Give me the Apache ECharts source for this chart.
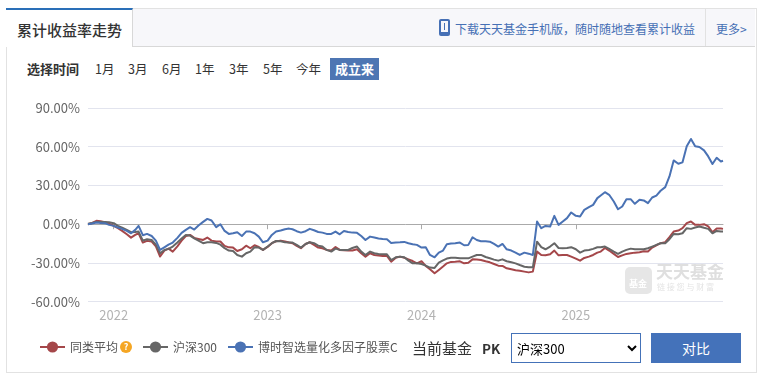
<!DOCTYPE html>
<html><head><meta charset="utf-8">
<script src="https://cdn.jsdelivr.net/npm/echarts@6/dist/echarts.min.js"></script>
<style>
html,body{margin:0;padding:0;background:#fff;width:761px;height:377px;overflow:hidden;font-family:"Noto Sans CJK SC","Noto Sans",sans-serif;color:#333}
.a{position:absolute;white-space:nowrap}
#chart{position:absolute;left:0;top:0;width:761px;height:377px}
</style></head><body>
<div class="a" style="left:6px;top:8px;width:749px;height:363px;border:1px solid #e2e2e2"></div>
<div class="a" style="left:7px;top:9px;width:748px;height:37px;background:#f7f7fa;border-bottom:1px solid #d8d8d8"></div>
<div class="a" style="left:6px;top:8px;width:127px;height:39px;background:#fff;border-top:2px solid #2a6fb8;border-right:1px solid #d8d8d8;box-sizing:border-box"></div>
<div class="a" style="left:705px;top:9px;width:1px;height:37px;background:#e2e2e2"></div>
<div class="a" style="left:17px;top:19px;font-size:15px;font-weight:500;line-height:22px">累计收益率走势</div>
<div class="a" style="left:439px;top:19px;width:11px;height:17px;background:#4670b5;border-radius:2px"><div style="position:absolute;left:2px;top:2px;width:7px;height:11px;background:#f7f7fa"></div><div style="position:absolute;left:5px;top:4px;width:1px;height:7px;background:#4670b5"></div></div>
<div class="a" style="left:455px;top:19px;font-size:12px;line-height:20px;color:#4670b5">下载天天基金手机版，随时随地查看累计收益</div>
<div class="a" style="left:716px;top:19px;font-size:12px;line-height:20px;color:#4670b5">更多&gt;</div>
<div class="a" style="left:27px;top:59px;font-size:13px;font-weight:700;line-height:20px">选择时间</div>
<div class="a" style="left:95px;top:59px;font-size:12.5px;line-height:20px">1月</div>
<div class="a" style="left:128px;top:59px;font-size:12.5px;line-height:20px">3月</div>
<div class="a" style="left:162px;top:59px;font-size:12.5px;line-height:20px">6月</div>
<div class="a" style="left:195px;top:59px;font-size:12.5px;line-height:20px">1年</div>
<div class="a" style="left:229px;top:59px;font-size:12.5px;line-height:20px">3年</div>
<div class="a" style="left:263px;top:59px;font-size:12.5px;line-height:20px">5年</div>
<div class="a" style="left:296px;top:59px;font-size:12.5px;line-height:20px">今年</div>
<div class="a" style="left:330px;top:58px;width:49px;height:22px;background:#4e76b3;color:#fff;font-size:13px;font-weight:700;line-height:22px;text-align:center">成立来</div>
<div id="chart"></div>
<div class="a" style="left:412px;top:338px;font-size:15px;line-height:20px">当前基金</div>
<div class="a" style="left:482px;top:338px;font-size:13.5px;font-weight:700;line-height:20px">PK</div>
<select class="a" style="left:511px;top:333px;width:130px;height:30px;border:1px solid #4472b8;background:#fff;font-size:13px;color:#000;font-family:inherit;padding:0 0 0 1px;border-radius:0;outline:none"><option>沪深300</option></select>
<div class="a" style="left:651px;top:333px;width:90px;height:30px;background:#4472ba;color:#fff;font-size:14px;line-height:30px;text-align:center">对比</div>
<script>
const dates = [
'2021-11-01','2021-11-11','2021-11-21','2021-12-01','2021-12-11','2021-12-21',
'2022-01-01','2022-01-11','2022-01-21','2022-02-01','2022-02-11','2022-02-21','2022-03-01','2022-03-11','2022-03-21','2022-04-01','2022-04-11','2022-04-21',
'2022-05-01','2022-05-11','2022-05-21','2022-06-01','2022-06-11','2022-06-21','2022-07-01','2022-07-11','2022-07-21','2022-08-01','2022-08-11','2022-08-21',
'2022-09-01','2022-09-11','2022-09-21','2022-10-01','2022-10-11','2022-10-21','2022-11-01','2022-11-11','2022-11-21','2022-12-01','2022-12-11','2022-12-21',
'2023-01-01','2023-01-11','2023-01-21','2023-02-01','2023-02-11','2023-02-21','2023-03-01','2023-03-11','2023-03-21','2023-04-01','2023-04-11','2023-04-21',
'2023-05-01','2023-05-11','2023-05-21','2023-06-01','2023-06-11','2023-06-21','2023-07-01','2023-07-11','2023-07-21','2023-08-01','2023-08-11','2023-08-21',
'2023-09-01','2023-09-11','2023-09-21','2023-10-01','2023-10-11','2023-10-21','2023-11-01','2023-11-11','2023-11-21','2023-12-01','2023-12-11','2023-12-21',
'2024-01-01','2024-01-11','2024-01-21','2024-02-01','2024-02-11','2024-02-21','2024-03-01','2024-03-11','2024-03-21','2024-04-01','2024-04-11','2024-04-21',
'2024-05-01','2024-05-11','2024-05-21','2024-06-01','2024-06-11','2024-06-21','2024-07-01','2024-07-11','2024-07-21','2024-08-01','2024-08-11','2024-08-21',
'2024-09-01','2024-09-11','2024-09-21','2024-10-01','2024-10-11','2024-10-21','2024-11-01','2024-11-11','2024-11-21','2024-12-01','2024-12-11','2024-12-21',
'2025-01-01','2025-01-11','2025-01-21','2025-02-01','2025-02-11','2025-02-21','2025-03-01','2025-03-11','2025-03-21','2025-04-01','2025-04-11','2025-04-21',
'2025-05-01','2025-05-11','2025-05-21','2025-06-01','2025-06-11','2025-06-21','2025-07-01','2025-07-11','2025-07-21','2025-08-01','2025-08-11','2025-08-21',
'2025-09-01','2025-09-11','2025-09-21','2025-10-01','2025-10-11','2025-10-21','2025-11-01','2025-11-11','2025-11-21','2025-12-01','2025-12-11','2025-12-16'];
const peerAvg = [
0,1.0,2.6,2.3,1.6,.5,-1.3,-3.1,-5.2,-7.8,-10.4,-8.3,-7,-14.2,-12.9,-13.4,-17.1,-25,-20.4,-18.9,-21.2,-17.1,-12.7,-9.1,-8.3,-10.6,-11.4,-12.2,-10.3,-12.7,-13.4,-13.4,-16.8,-17.9,-18.1,-20.7,-19.4,-16.6,-18.6,-16.3,-17.6,-19.9,-17.6,-14.7,-13.2,-12.7,-13.4,-14.2,-14.7,-16.8,-18.6,
-15.3,-14,-16,-18.1,-18.6,-19.9,-20.4,-17.6,-19.9,-20.2,-20.4,-20.4,-19.4,-22.5,-25.1,-22.5,-23.8,-24.3,-24.6,-24.6,-29,-25.9,-25.1,-25.9,-27.2,-28.5,-30.3,-28.7,-32.3,-34.9,-38,-35.4,-32.8,-30.3,-29.2,-29,-28.7,-30.3,-29.8,-27.2,-27.4,-27.7,-28.7,-29.5,-30.8,-32.1,-32.3,-34.1,
-34.9,-35.7,-36,-36.7,-37.3,-36.7,-21.2,-23.8,-24.1,-23.3,-20.4,-24.1,-23.8,-23.8,-25.1,-26.6,-28.2,-26.1,-25.1,-23.8,-22,-21.2,-18.4,-20.4,-23,-25.4,-24.1,-23,-22.5,-22,-21.7,-21,-21.2,-18.1,-16.3,-14.7,-13.9,-10,-5.7,-4.9,-3.1,.8,2.1,-.5,-.5,0,-1.6,-6.2,-3.4,-3.4,-3.6];
const csi300 = [
.3,1.0,1.8,1.8,1.8,1.6,.8,-1.3,-2.6,-4.4,-6.2,-6,-5.7,-12.7,-11.6,-12.2,-15.8,-22.5,-20,-19.1,-17.3,-14.2,-11.1,-8.3,-8.8,-10.9,-12.7,-14.7,-14,-14,-14.5,-15.8,-18.6,-20.4,-20.7,-23.8,-25.1,-22.5,-21.2,-17.8,-18.1,-19.9,-17.3,-14.7,-13,-13.2,-14,-14.2,-14.2,-16,-18.1,
-15.3,-14,-14.7,-16.6,-17.3,-19.9,-21.2,-18.9,-19.9,-19.9,-19.9,-18.4,-17.3,-21.2,-23.8,-21.2,-22.5,-23,-23.3,-23.3,-27.7,-25.6,-25.1,-25.6,-28.2,-30.3,-30.3,-30.8,-32.1,-33.6,-33.9,-29.8,-28,-26.6,-25.9,-25.9,-26.4,-26.4,-26.4,-25.1,-23.8,-23.8,-25.4,-26.4,-27.4,-28.2,-27.2,-28.7,
-29.5,-30.3,-31.6,-32.9,-33.4,-33.4,-13.5,-17.8,-19.4,-17.3,-14.7,-18.4,-18.6,-18.4,-17.8,-19.4,-22,-20.4,-19.9,-19.1,-17.8,-17.8,-17.3,-19.1,-21.2,-23,-21.2,-19.9,-18.9,-19.4,-19.4,-19.4,-18.6,-17.3,-16,-14.7,-14.7,-11.6,-7.5,-7.8,-7,-3.1,-3.6,-2.6,-1.8,-2.8,-3.6,-7,-5.2,-5.7,-5.7];
const fund = [
0,.5,1.3,1.0,.8,-.5,-1.3,-2.6,-3.6,-5.2,-7,-4.4,-1.3,-8.5,-7.5,-9.1,-12.7,-19.9,-17.9,-15.8,-14.2,-10.6,-6.7,-4.4,-2.3,-4.1,-1,1.8,4.1,2.9,-2.3,0,-5.2,-7.5,-7,-6.2,-9.1,-5.7,-5.7,-7,-9.6,-14,-12.7,-8.3,-5.7,-4.9,-3.9,-3.4,-3.9,-5.4,-6.5,
-5.4,-3.6,-4.7,-6,-6.5,-7.5,-7.5,-5.7,-7.8,-5.2,-6,-6.5,-6.7,-9.1,-12.2,-9.6,-10.3,-11.1,-11.4,-11.6,-14.5,-14.2,-14,-13.7,-14.7,-15.5,-16,-18.1,-17.9,-23.8,-25.6,-22,-20.4,-15.5,-15,-14.7,-14.2,-16.3,-16,-10.1,-12.2,-13.2,-13.2,-13.5,-15.3,-17.3,-15.3,-19.4,
-20.4,-22,-23.8,-22,-22.8,-23.8,2.1,-3.1,-1.3,-1.8,6.5,-.5,2.1,4.7,9.1,6.5,6,11.1,13.2,15,20.2,22.2,24.8,22.8,17.6,11.6,13.7,19.4,19.4,15.8,18.9,18.4,16.3,20.7,22.2,25.9,28.7,37,49.4,46.8,47.9,60.3,66,60.3,59.8,57.2,52.5,46.6,51.5,48.6,49.2];
const yearTicks = ['2022-01-01','2023-01-01','2024-01-01','2025-01-01'];
const seriesNames = ['同类平均','沪深300','博时智选量化多因子股票C'];

const ts = d => Date.parse(d + 'T00:00:00Z');
const tickVals = yearTicks.map(ts);
const pair = arr => dates.map((d, i) => [ts(d), arr[i]]);
const xMin = ts(dates[0]), xMax = ts(dates[dates.length - 1]);
const font = '"Noto Sans CJK SC","Noto Sans",sans-serif';
const mk = (name, arr, color) => ({
  name, type: 'line', data: pair(arr), xAxisIndex: 0, yAxisIndex: 0, symbol: 'circle', symbolSize: 10,
  showSymbol: false, smooth: false, silent: true, animation: false,
  lineStyle: { color, width: 2, join: 'round' }, itemStyle: { color }
});
const chart = echarts.init(document.getElementById('chart'), null, { renderer: 'canvas' });
chart.setOption({
  animation: false,
  textStyle: { fontFamily: font },
  grid: { left: 88, right: 38, top: 108, bottom: 75.3 },
  legend: {
    left: 34, top: 336, itemWidth: 25, itemHeight: 14, itemGap: 10, selectedMode: false,
    data: seriesNames,
    textStyle: { fontSize: 12, color: '#555', fontFamily: font,
      rich: { n: { fontSize: 12, color: '#555', fontFamily: font }, q: { width: 12, height: 12, lineHeight: 12, borderRadius: 6, backgroundColor: '#f5a623', color: '#fff', fontSize: 9, fontWeight: 'bold', align: 'center' }, s: { width: 2 } } },
    formatter: n => n === seriesNames[0] ? '{n|' + n + '}{s|}{q|?}' : '{n|' + n + '}'
  },
  xAxis: [
    { type: 'value', min: xMin, max: xMax, axisLine: { onZero: true, lineStyle: { color: '#aaa', width: 1 } },
      axisTick: { show: true, inside: false, length: 5, lineStyle: { color: '#aaa' }, customValues: tickVals },
      axisLabel: { show: false }, splitLine: { show: false } },
    { type: 'value', position: 'bottom', min: xMin, max: xMax, axisLine: { show: false, onZero: false }, axisTick: { show: false },
      axisLabel: { show: true, customValues: tickVals, color: '#b3b3b3', fontSize: 13, margin: 7, showMinLabel: true, showMaxLabel: true, formatter: v => String(new Date(v).getUTCFullYear()) },
      splitLine: { show: false } }
  ],
  yAxis: { type: 'value', min: -60, max: 90, interval: 30, axisLine: { show: false }, axisTick: { show: false },
    axisLabel: { color: '#666', fontSize: 13, margin: 8, formatter: v => v.toFixed(2) + '%' },
    splitLine: { lineStyle: { color: '#e2e4ee', width: 1 } } },
  graphic: [
    { type: 'rect', z: 0, left: 625, top: 267, shape: { width: 27, height: 27, r: 5 }, style: { fill: '#e6e6e6' } },
    { type: 'text', z: 0, left: 629, top: 279, style: { text: '基金', fill: '#fff', font: '700 9px ' + font } },
    { type: 'text', z: 0, left: 656, top: 263, style: { text: '天天基金', fill: '#dfdfdf', font: '700 17px ' + font } },
    { type: 'text', z: 0, left: 657, top: 283, style: { text: '链 接 您 与 财 富', fill: '#e4e4e4', font: '8px ' + font } }
  ],
  series: [ mk(seriesNames[0], peerAvg, '#a5474a'), mk(seriesNames[1], csi300, '#666666'), mk(seriesNames[2], fund, '#4a72b4') ]
});
</script>
</body></html>
